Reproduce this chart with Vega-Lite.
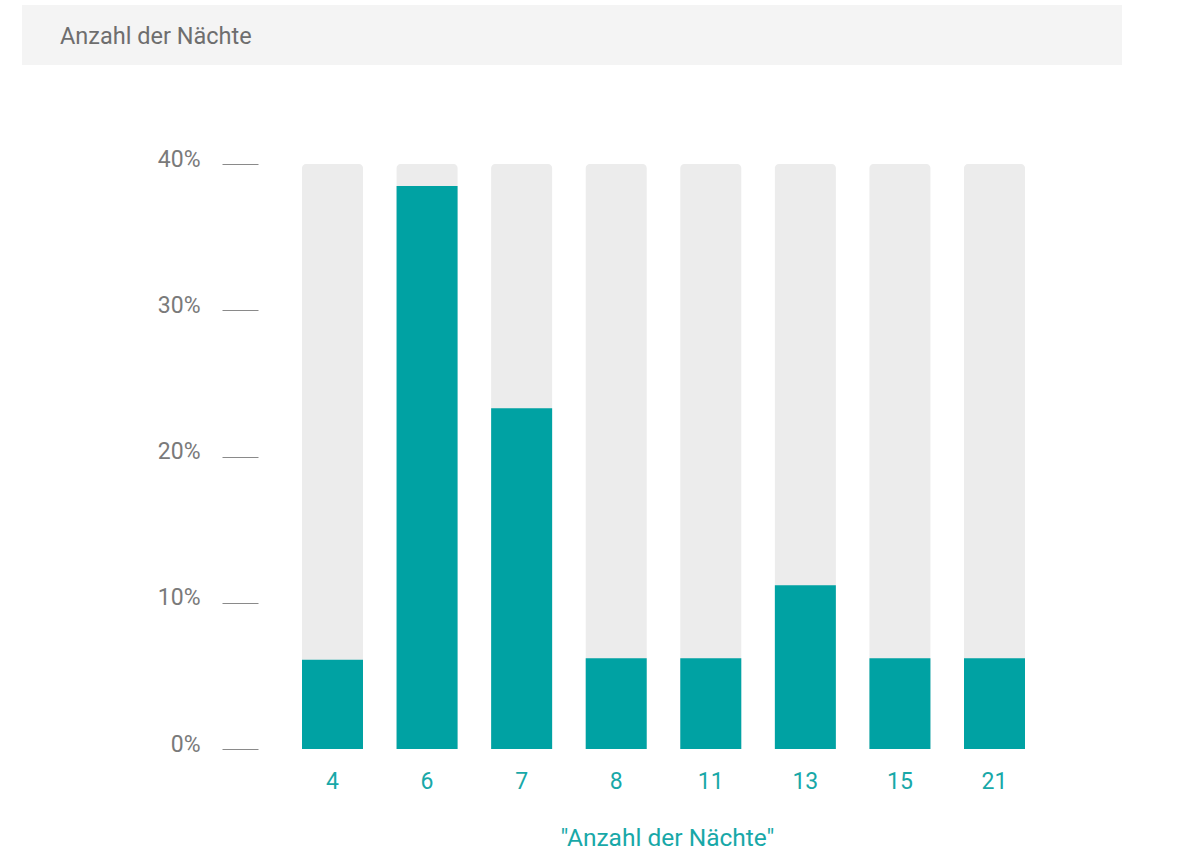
{
  "$schema": "https://vega.github.io/schema/vega-lite/v6.json",
  "background": "white",
  "padding": {"left": 22, "top": 5, "right": 0, "bottom": 0},
  "autosize": {"type": "pad"},
  "config": {"view": {"stroke": null}, "font": "Roboto"},
  "bounds": "flush",
  "spacing": 99,
  "vconcat": [
    {
      "width": 1100,
      "height": 60,
      "data": {"values": [{"heading": "Anzahl der Nächte"}]},
      "mark": {"type": "rect", "color": "#f4f4f4"},
      "encoding": {},
      "title": {
        "text": "Anzahl der Nächte",
        "anchor": "start",
        "orient": "top",
        "frame": "group",
        "offset": -40,
        "dx": 38,
        "dy": 22,
        "baseline": "alphabetic",
        "fontSize": 23.5,
        "fontWeight": "normal",
        "color": "#6e6e6e",
        "font": "Roboto"
      }
    },
    {
      "width": 1100,
      "height": 585,
      "data": {
        "values": [
          {"naechte": 4, "anteil": 0.061},
          {"naechte": 6, "anteil": 0.385},
          {"naechte": 7, "anteil": 0.233},
          {"naechte": 8, "anteil": 0.062},
          {"naechte": 11, "anteil": 0.062},
          {"naechte": 13, "anteil": 0.112},
          {"naechte": 15, "anteil": 0.062},
          {"naechte": 21, "anteil": 0.062}
        ]
      },
      "encoding": {
        "x": {
          "field": "naechte",
          "type": "ordinal",
          "sort": "ascending",
          "scale": {"type": "band", "paddingInner": 0.355, "paddingOuter": 0, "range": [280, 1003]},
          "axis": {
            "title": "\"Anzahl der Nächte\"",
            "domain": false,
            "ticks": false,
            "tickSize": 0,
            "labelAngle": 0,
            "labelPadding": 21,
            "labelFontSize": 23,
            "labelColor": "#18a8a8",
            "labelFont": "Roboto",
            "titleFont": "Roboto",
            "titleFontSize": 24.5,
            "titleFontWeight": "normal",
            "titleColor": "#18a8a8",
            "titlePadding": 33,
            "titleX": 645
          }
        }
      },
      "layer": [
        {
          "mark": {"type": "bar", "color": "#ececec", "cornerRadiusTopLeft": 4, "cornerRadiusTopRight": 4},
          "encoding": {
            "y": {
              "datum": 0.4,
              "type": "quantitative",
              "scale": {"domain": [0, 0.4]},
              "axis": {
                "title": null,
                "format": ".0%",
                "values": [0, 0.1, 0.2, 0.3, 0.4],
                "domain": false,
                "grid": false,
                "offset": -236,
                "zindex": 1,
                "tickSize": 36,
                "tickColor": "#8a8a8a",
                "tickWidth": 1,
                "labelPadding": 22,
                "labelFontSize": 23,
                "labelColor": "#7a7a7a",
                "labelFont": "Roboto",
                "labelFlush": false,
                "labelBaseline": "middle",
                "labelOffset": -5
              }
            }
          }
        },
        {
          "mark": {"type": "bar", "color": "#00a2a3"},
          "encoding": {
            "y": {
              "field": "anteil",
              "type": "quantitative",
              "scale": {"domain": [0, 0.4]},
              "axis": {
                "title": null,
                "format": ".0%",
                "values": [0, 0.1, 0.2, 0.3, 0.4],
                "domain": false,
                "grid": false,
                "offset": -236,
                "zindex": 1,
                "tickSize": 36,
                "tickColor": "#8a8a8a",
                "tickWidth": 1,
                "labelPadding": 22,
                "labelFontSize": 23,
                "labelColor": "#7a7a7a",
                "labelFont": "Roboto",
                "labelFlush": false,
                "labelBaseline": "middle",
                "labelOffset": -5
              }
            }
          }
        }
      ]
    }
  ]
}
